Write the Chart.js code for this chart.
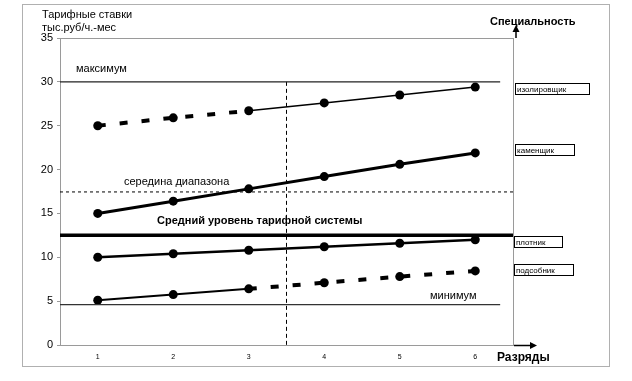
<!DOCTYPE html>
<html>
<head>
<meta charset="utf-8">
<script src="https://cdn.jsdelivr.net/npm/chart.js@4"></script>
<style>
html,body{margin:0;padding:0;background:#fff;}
#wrap{position:relative;width:632px;height:381px;}
</style>
</head>
<body>
<div id="wrap"><canvas id="c" width="632" height="381"></canvas></div>
<script>
// ---- data ----
const grades = [1, 2, 3, 4, 5, 6];
const yTicks = [0, 5, 10, 15, 20, 25, 30, 35];
const insulator = [25, 25.9, 26.7, 27.6, 28.5, 29.4];   // изолировщик
const mason     = [15, 16.4, 17.8, 19.2, 20.6, 21.9];   // каменщик
const carpenter = [10, 10.4, 10.8, 11.2, 11.6, 12.0];   // плотник
const helper    = [5.1, 5.75, 6.4, 7.1, 7.8, 8.45];     // подсобник
const specialties = ['изолировщик', 'каменщик', 'плотник', 'подсобник'];
const maxLevel = 30;      // максимум
const minLevel = 4.6;     // минимум
const midRange = 17.45;   // середина диапазона
const avgLevel = 12.5;    // средний уровень тарифной системы
const splitGrade = 3.5;   // вертикальная граница
const refStart = 0.5, refEnd = 6.33, fullEnd = 6.5;

const pts = arr => arr.map((v, i) => ({x: grades[i], y: v}));

const GRAY = '#9a9a9a';

const decor = {
  id: 'decor',
  beforeDraw(chart) {
    const ctx = chart.ctx;
    ctx.save();
    ctx.fillStyle = '#fff';
    ctx.fillRect(0, 0, chart.width, chart.height);
    ctx.strokeStyle = '#b0b0b0';
    ctx.lineWidth = 1;
    ctx.strokeRect(22.5, 4.5, 587, 362);
    const a = chart.chartArea;
    ctx.strokeStyle = GRAY;
    ctx.beginPath();
    ctx.moveTo(a.left, a.top + 0.5); ctx.lineTo(a.right, a.top + 0.5);
    ctx.moveTo(a.right + 0.5, a.top); ctx.lineTo(a.right + 0.5, a.bottom);
    ctx.stroke();
    ctx.restore();
  },
  afterDraw(chart) {
    const ctx = chart.ctx;
    const ys = chart.scales.y;
    ctx.save();
    ctx.fillStyle = '#000';
    ctx.textBaseline = 'middle';
    ctx.textAlign = 'left';
    ctx.font = '11px "Liberation Sans", Arial, sans-serif';
    ctx.fillText('Тарифные ставки', 42, 15);
    ctx.fillText('тыс.руб/ч.-мес', 42, 28);
    ctx.fillText('максимум', 76, 69);
    ctx.fillText('середина диапазона', 124, 182);
    ctx.fillText('минимум', 430, 296);
    ctx.font = 'bold 11px "Liberation Sans", Arial, sans-serif';
    ctx.fillText('Средний уровень тарифной системы', 157, 221);
    ctx.fillText('Специальность', 490, 22);
    ctx.font = 'bold 12px "Liberation Sans", Arial, sans-serif';
    ctx.fillText('Разряды', 497, 358);

    // arrows
    ctx.strokeStyle = '#000';
    ctx.lineWidth = 1.5;
    ctx.beginPath();
    ctx.moveTo(516, 38); ctx.lineTo(516, 30);
    ctx.moveTo(514, 345.5); ctx.lineTo(530, 345.5);
    ctx.stroke();
    ctx.beginPath();
    ctx.moveTo(516, 25); ctx.lineTo(512.5, 32); ctx.lineTo(519.5, 32); ctx.closePath();
    ctx.fill();
    ctx.beginPath();
    ctx.moveTo(537, 345.5); ctx.lineTo(530, 342); ctx.lineTo(530, 349); ctx.closePath();
    ctx.fill();

    // specialty boxes
    const boxes = [
      {x: 515, y: 83, w: 74, h: 11},
      {x: 515, y: 144, w: 59, h: 11},
      {x: 514, y: 236, w: 48, h: 11},
      {x: 514, y: 264, w: 59, h: 11}
    ];
    ctx.font = '8px "Liberation Sans", Arial, sans-serif';
    ctx.lineWidth = 1;
    boxes.forEach((b, i) => {
      ctx.strokeRect(b.x + 0.5, b.y + 0.5, b.w, b.h);
      ctx.fillText(specialties[i], b.x + 2, b.y + b.h / 2 + 1);
    });
    ctx.restore();
  }
};

const seriesBase = {
  borderColor: '#000',
  backgroundColor: '#000',
  pointRadius: 4.5,
  pointBackgroundColor: '#000',
  pointBorderColor: '#000',
  pointBorderWidth: 0,
  tension: 0,
  fill: false
};
const refBase = {
  borderColor: '#000',
  pointRadius: 0,
  tension: 0,
  fill: false,
  clip: false
};

new Chart(document.getElementById('c'), {
  type: 'line',
  data: {
    datasets: [
      Object.assign({}, refBase, {label: 'максимум', data: [{x: refStart, y: maxLevel}, {x: refEnd, y: maxLevel}], borderWidth: 1.3, borderColor: '#222'}),
      Object.assign({}, refBase, {label: 'минимум', data: [{x: refStart, y: minLevel}, {x: refEnd, y: minLevel}], borderWidth: 1.3, borderColor: '#333'}),
      Object.assign({}, refBase, {label: 'середина', data: [{x: refStart, y: midRange}, {x: fullEnd, y: midRange}], borderWidth: 1, borderDash: [3, 3]}),
      Object.assign({}, refBase, {label: 'средний', data: [{x: refStart, y: avgLevel}, {x: fullEnd, y: avgLevel}], borderWidth: 3.5}),
      Object.assign({}, refBase, {label: 'граница', data: [{x: splitGrade, y: maxLevel}, {x: splitGrade, y: 0}], borderWidth: 1, borderDash: [4, 3]}),
      Object.assign({}, seriesBase, {label: 'изолировщик', data: pts(insulator), borderWidth: 1.5,
        segment: {
          borderDash: c => c.p1DataIndex <= 2 ? [8, 14] : undefined,
          borderWidth: c => c.p1DataIndex <= 2 ? 4 : 1.5
        }}),
      Object.assign({}, seriesBase, {label: 'каменщик', data: pts(mason), borderWidth: 3}),
      Object.assign({}, seriesBase, {label: 'плотник', data: pts(carpenter), borderWidth: 2.5}),
      Object.assign({}, seriesBase, {label: 'подсобник', data: pts(helper), borderWidth: 2,
        segment: {
          borderDash: c => c.p0DataIndex >= 2 ? [8, 14] : undefined,
          borderWidth: c => c.p0DataIndex >= 2 ? 4 : 2
        }})
    ]
  },
  options: {
    responsive: false,
    animation: false,
    events: [],
    layout: {padding: {top: 38, right: 119, left: 0, bottom: 0}},
    plugins: {legend: {display: false}, tooltip: {enabled: false}},
    scales: {
      x: {
        type: 'linear',
        min: 0.5, max: 6.5,
        afterBuildTicks: s => { s.ticks = grades.map(v => ({value: v})); },
        afterFit: s => { s.height = 36; },
        grid: {display: false, drawTicks: false},
        border: {display: true, color: GRAY, width: 1},
        ticks: {padding: 8, color: '#000', font: {family: '"Liberation Sans", Arial, sans-serif', size: 7}}
      },
      y: {
        min: 0, max: 35,
        afterBuildTicks: s => { s.ticks = yTicks.map(v => ({value: v})); },
        afterFit: s => { s.width = 60; },
        grid: {display: true, drawOnChartArea: false, drawTicks: true, tickLength: 3, color: GRAY},
        border: {display: true, color: GRAY, width: 1},
        ticks: {padding: 4, color: '#000', font: {family: '"Liberation Sans", Arial, sans-serif', size: 11}}
      }
    }
  },
  plugins: [decor]
});
</script>
</body>
</html>
